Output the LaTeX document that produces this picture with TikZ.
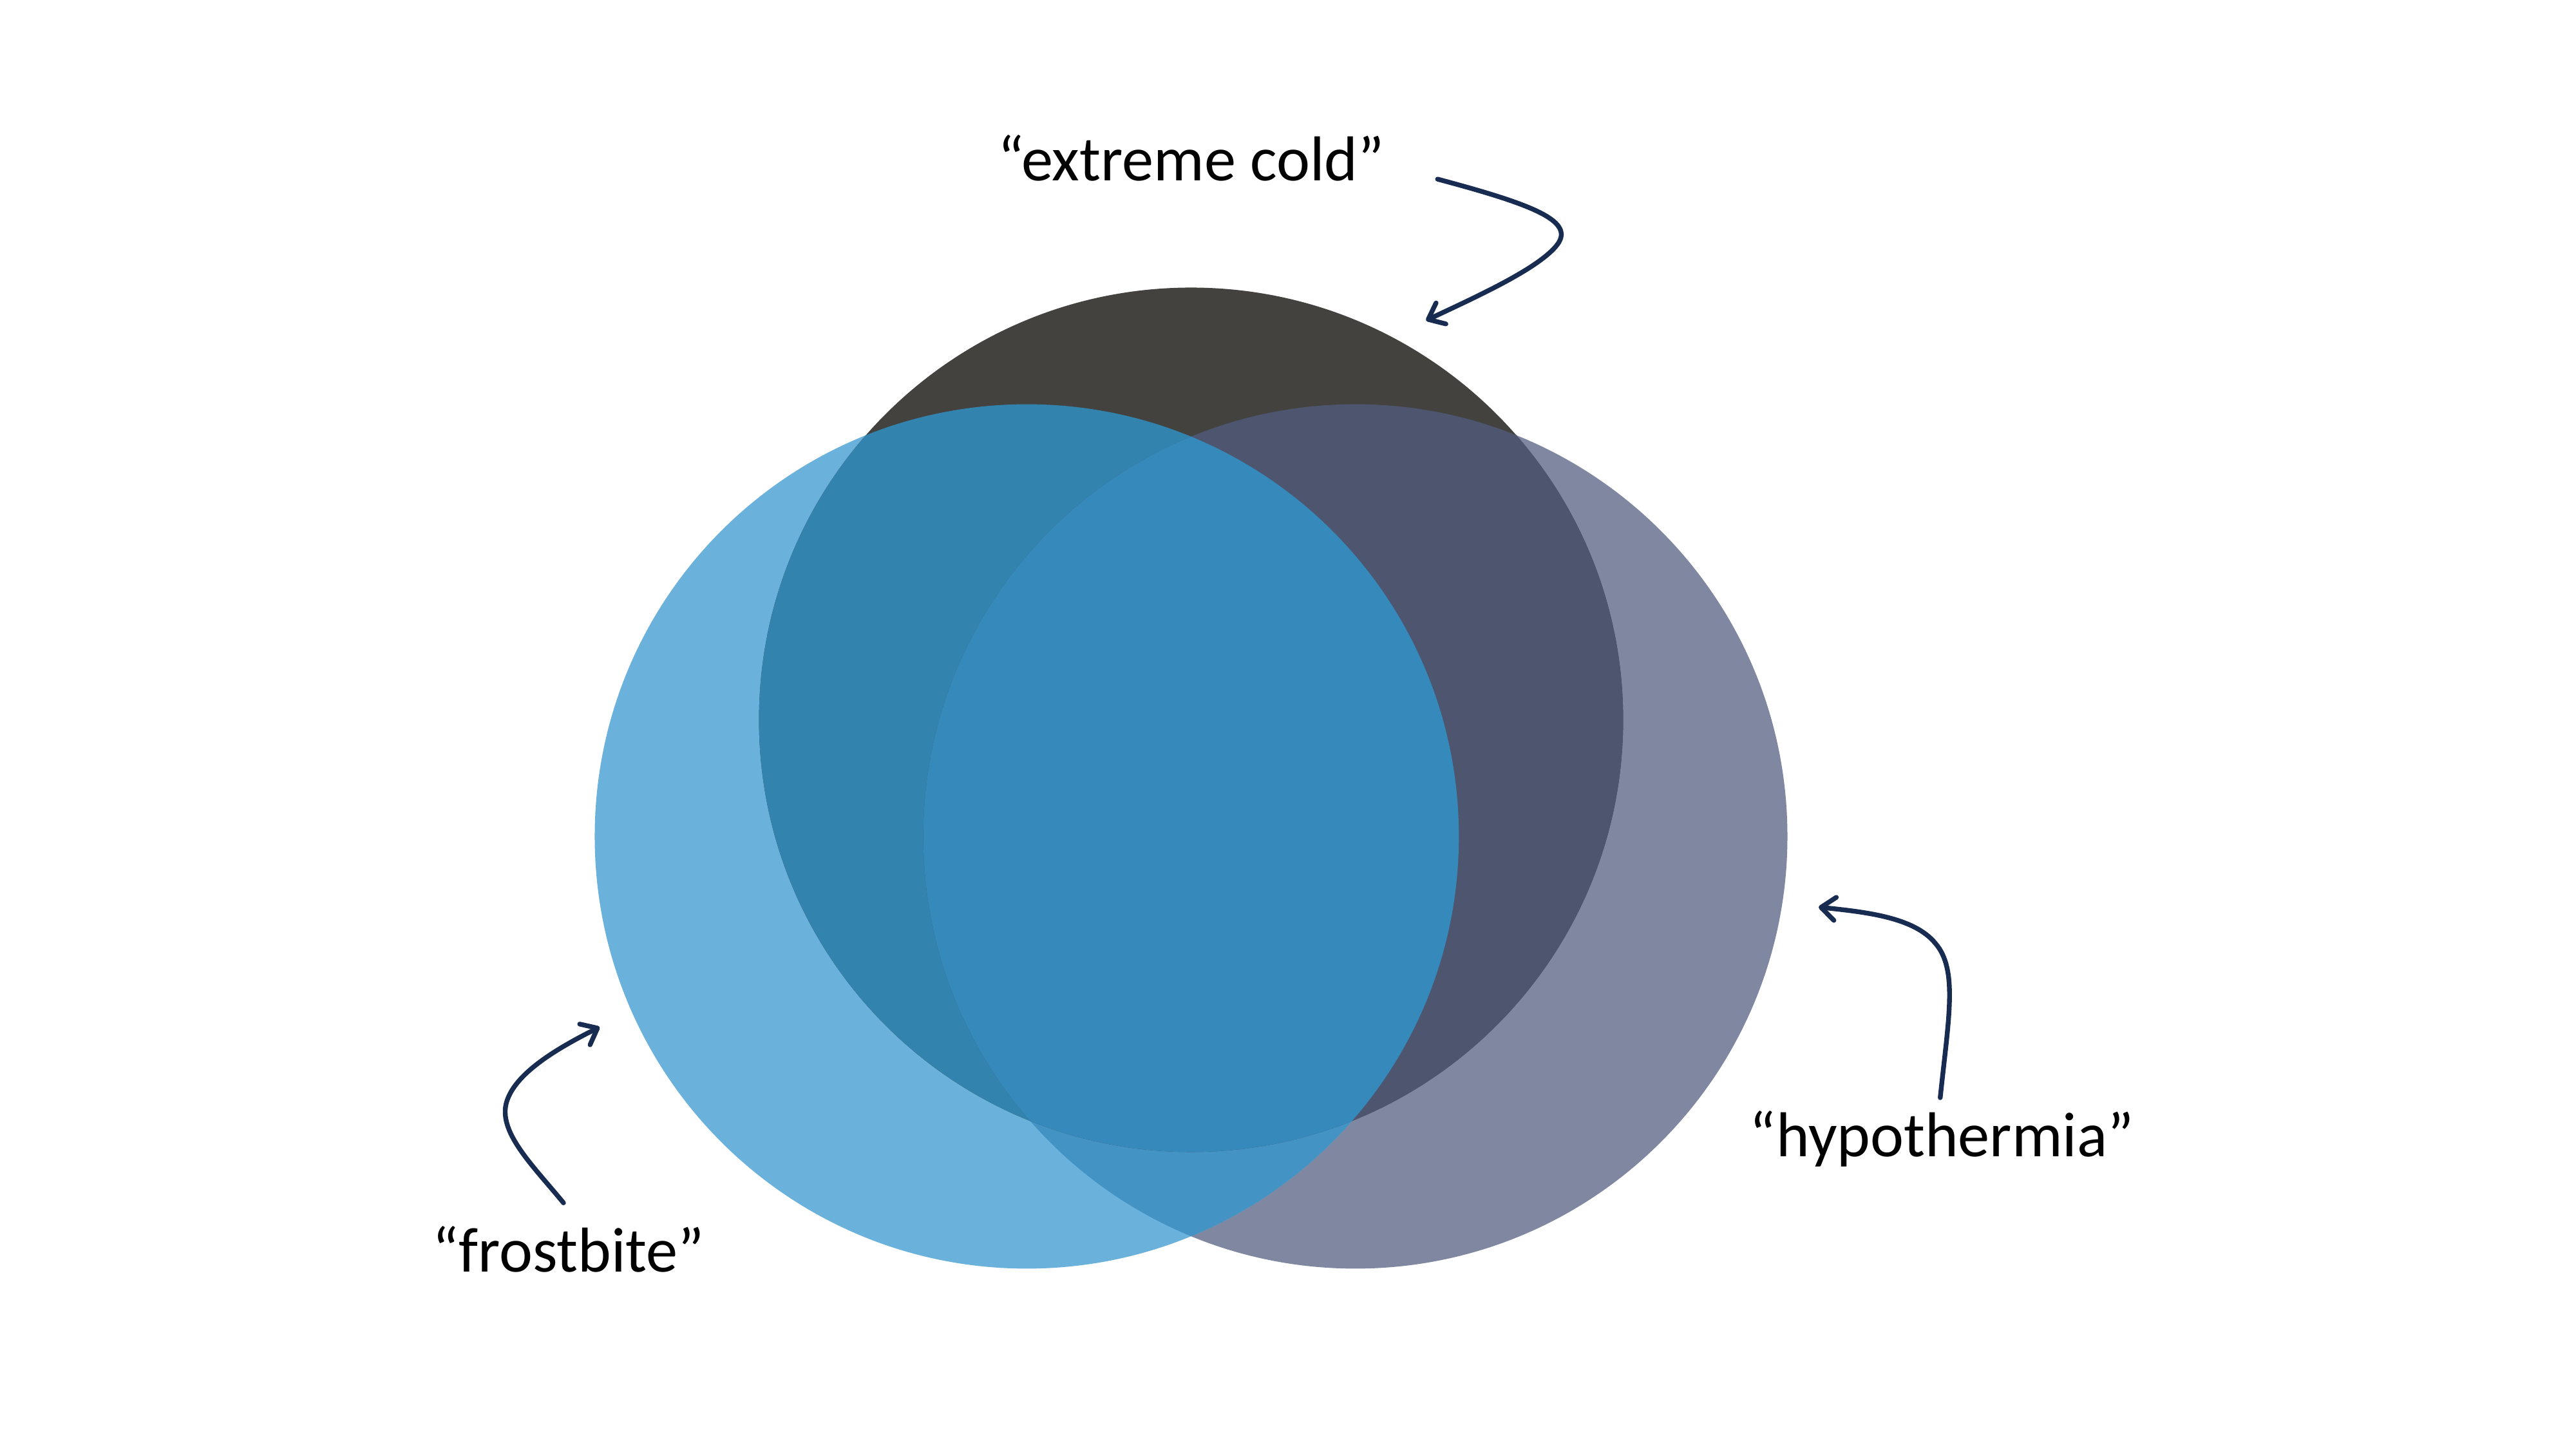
\documentclass[tikz,border=0pt]{standalone}
\usepackage{fontspec}
\setmainfont{Carlito}
\usetikzlibrary{arrows.meta}
\definecolor{cT}{HTML}{43423E}
\definecolor{cL}{HTML}{6AB2DC}
\definecolor{cR}{HTML}{8087A0}
\definecolor{cTL}{HTML}{3383AF}
\definecolor{cTR}{HTML}{4D556F}
\definecolor{cLR}{HTML}{4493C5}
\definecolor{cTLR}{HTML}{3689BB}
\definecolor{arrowc}{HTML}{182C52}
\tikzset{
  lbl/.style={font=\fontsize{28}{32}\selectfont, anchor=base, inner sep=0pt},
  pointer/.style={draw=arrowc, line width=2.1pt, line cap=round,
    -{Straight Barb[length=2.2mm,width=3.6mm,line cap=round,line join=round]}}
}
\begin{document}
\begin{tikzpicture}[x=0.2551mm,y=-0.2551mm]
\useasboundingbox (0,0) rectangle (1568,882);
\def\rad{263}
% base circles
\fill[cR] (825,509) circle[radius=\rad];
\fill[cL] (625,509) circle[radius=\rad];
\fill[cT] (725,438) circle[radius=\rad];
% left & right
\begin{scope}
  \clip (625,509) circle[radius=\rad];
  \fill[cLR] (825,509) circle[radius=\rad];
\end{scope}
% top & left
\begin{scope}
  \clip (725,438) circle[radius=\rad];
  \fill[cTL] (625,509) circle[radius=\rad];
\end{scope}
% top & right
\begin{scope}
  \clip (725,438) circle[radius=\rad];
  \fill[cTR] (825,509) circle[radius=\rad];
\end{scope}
% all three
\begin{scope}
  \clip (725,438) circle[radius=\rad];
  \clip (625,509) circle[radius=\rad];
  \fill[cTLR] (825,509) circle[radius=\rad];
\end{scope}
% labels
\node[lbl] (cold) at (725,110) {“extreme cold”};
\node[lbl] (frost) at (346,774) {“frostbite”};
\node[lbl] (hypo) at (1182,704) {“hypothermia”};
% arrow endpoints
\coordinate (s1) at (875,109);
\coordinate (e1) at (868,195);
\coordinate (s2) at (1181,668);
\coordinate (e2) at (1107,552);
\coordinate (s3) at (343,732);
\coordinate (e3) at (365,625);
\draw[pointer] (s1) .. controls (935,125) and (960,135) .. (947,150) .. controls (935,164) and (900,180) .. (e1);
\draw[pointer] (s2) .. controls (1186,620) and (1192,590) .. (1178,574) .. controls (1165,558) and (1135,555) .. (e2);
\draw[pointer] (s3) .. controls (325,710) and (304,690) .. (308,672) .. controls (312,655) and (335,640) .. (e3);
\end{tikzpicture}
\end{document}
